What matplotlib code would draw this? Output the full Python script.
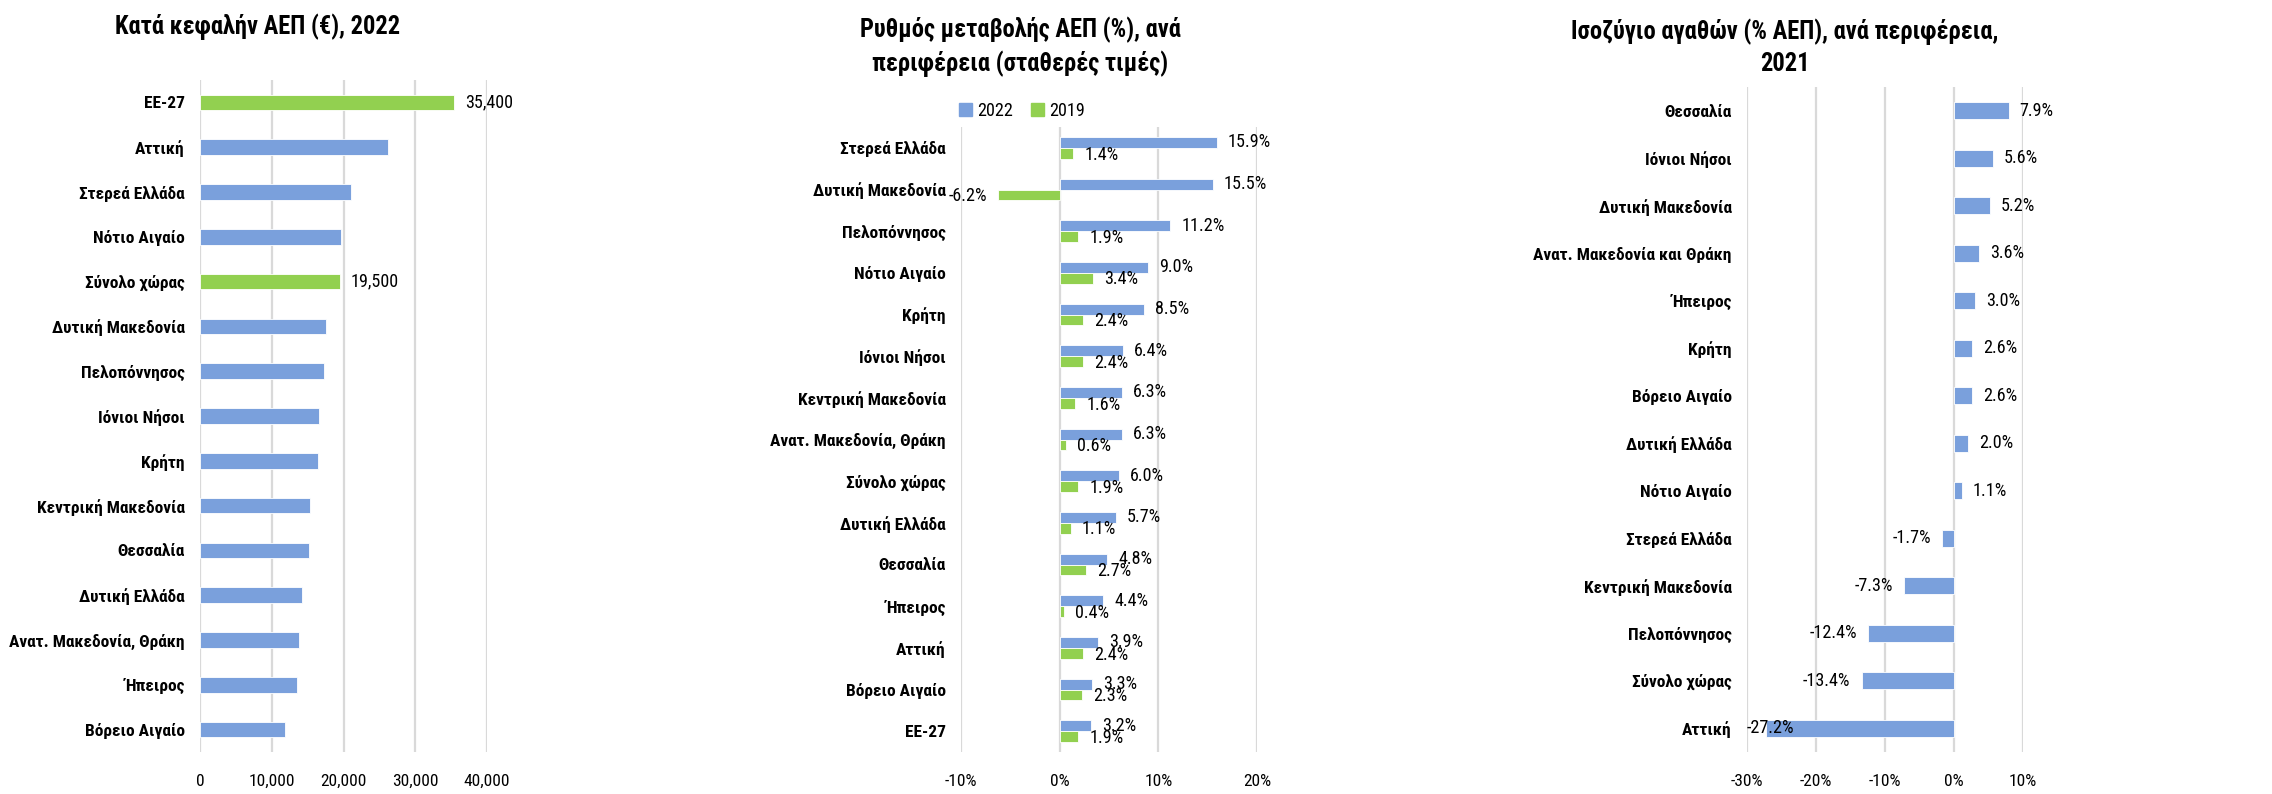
import matplotlib
matplotlib.use("Agg")
import matplotlib.pyplot as plt
from matplotlib import font_manager
from matplotlib.patches import Patch
from matplotlib.ticker import FuncFormatter

# pick the narrowest installed sans family (the original uses a condensed face)
installed = {f.name for f in font_manager.fontManager.ttflist}
for fam in ['Roboto Condensed', 'Liberation Sans Narrow', 'Open Sans Condensed', 'Roboto']:
    if fam in installed:
        FONT = fam
        break
else:
    FONT = 'DejaVu Sans'
plt.rcParams['font.family'] = [FONT, 'DejaVu Sans']

# --- Data: per-capita GDP 2022 (EUR) ---
gdp_regions = ['ΕΕ-27', 'Αττική', 'Στερεά Ελλάδα', 'Νότιο Αιγαίο', 'Σύνολο χώρας',
               'Δυτική Μακεδονία', 'Πελοπόννησος', 'Ιόνιοι Νήσοι', 'Κρήτη',
               'Κεντρική Μακεδονία', 'Θεσσαλία', 'Δυτική Ελλάδα',
               'Ανατ. Μακεδονία, Θράκη', 'Ήπειρος', 'Βόρειο Αιγαίο']
gdp_values = [35400, 26200, 21000, 19600, 19500, 17500, 17300, 16600, 16400,
              15400, 15200, 14200, 13800, 13500, 11900]
gdp_highlight = ['ΕΕ-27', 'Σύνολο χώρας']

# --- Data: GDP growth (%) by region, constant prices ---
growth_regions = ['Στερεά Ελλάδα', 'Δυτική Μακεδονία', 'Πελοπόννησος', 'Νότιο Αιγαίο',
                  'Κρήτη', 'Ιόνιοι Νήσοι', 'Κεντρική Μακεδονία', 'Ανατ. Μακεδονία, Θράκη',
                  'Σύνολο χώρας', 'Δυτική Ελλάδα', 'Θεσσαλία', 'Ήπειρος', 'Αττική',
                  'Βόρειο Αιγαίο', 'ΕΕ-27']
growth_2022 = [15.9, 15.5, 11.2, 9.0, 8.5, 6.4, 6.3, 6.3, 6.0, 5.7, 4.8, 4.4, 3.9, 3.3, 3.2]
growth_2019 = [1.4, -6.2, 1.9, 3.4, 2.4, 2.4, 1.6, 0.6, 1.9, 1.1, 2.7, 0.4, 2.4, 2.3, 1.9]

# --- Data: goods balance (% GDP), 2021 ---
trade_regions = ['Θεσσαλία', 'Ιόνιοι Νήσοι', 'Δυτική Μακεδονία', 'Ανατ. Μακεδονία και Θράκη',
                 'Ήπειρος', 'Κρήτη', 'Βόρειο Αιγαίο', 'Δυτική Ελλάδα', 'Νότιο Αιγαίο',
                 'Στερεά Ελλάδα', 'Κεντρική Μακεδονία', 'Πελοπόννησος', 'Σύνολο χώρας', 'Αττική']
trade_values = [7.9, 5.6, 5.2, 3.6, 3.0, 2.6, 2.6, 2.0, 1.1, -1.7, -7.3, -12.4, -13.4, -27.2]

BLUE = '#7AA0DC'
GREEN = '#92D050'
GRID = '#D9D9D9'
W, H = 2272, 794

fig = plt.figure(figsize=(W / 100, H / 100), dpi=100)
renderer = fig.canvas.get_renderer()


def fit_size(text, target_px, weight='normal', max_size=16):
    # font size (pt) that makes `text` about target_px wide
    t = fig.text(0, 0, text, fontsize=10, fontweight=weight)
    w = t.get_window_extent(renderer).width
    t.remove()
    return min(max_size, 10 * target_px / w)


CAT_FS = fit_size('Ανατ. Μακεδονία, Θράκη', 176, 'bold', 16)
VAL_FS = fit_size('35,400', 48, 'normal', 15)
TICK_FS = fit_size('40,000', 46, 'normal', 15)
TITLE_FS = fit_size('Κατά κεφαλήν ΑΕΠ (€), 2022', 285, 'bold', 19)


def px_axes(x0, x1, y0, y1):
    # pixel box -> figure fraction
    return fig.add_axes([x0 / W, 1 - y1 / H, (x1 - x0) / W, (y1 - y0) / H])


def style(ax, labels, xlim, ticks, fmt):
    n = len(labels)
    ax.set_ylim(n - 0.5, -0.5)
    ax.set_yticks(range(n))
    ax.set_yticklabels(labels, fontsize=CAT_FS, fontweight='bold')
    ax.set_xlim(*xlim)
    ax.set_xticks(ticks)
    ax.xaxis.set_major_formatter(FuncFormatter(fmt))
    ax.grid(axis='x', color=GRID, linewidth=1.6)
    ax.set_axisbelow(True)
    for s in ax.spines.values():
        s.set_visible(False)
    ax.tick_params(axis='both', length=0)
    ax.tick_params(axis='x', pad=16, labelsize=TICK_FS)
    ax.tick_params(axis='y', pad=11)


def label(ax, x, y, text, xmin=None):
    if x >= 0:
        ax.annotate(text, (x, y), xytext=(8, 0), textcoords='offset points',
                    ha='left', va='center', fontsize=VAL_FS)
    elif xmin is not None and x < xmin + 6:
        ax.annotate(text, (xmin, y), xytext=(0, 0), textcoords='offset points',
                    ha='left', va='center', fontsize=VAL_FS)
    else:
        ax.annotate(text, (x, y), xytext=(-8, 0), textcoords='offset points',
                    ha='right', va='center', fontsize=VAL_FS)


# --- Panel 1 ---
ax1 = px_axes(200, 487, 80, 752)
cols = [GREEN if r in gdp_highlight else BLUE for r in gdp_regions]
ax1.barh(range(len(gdp_regions)), gdp_values, height=0.35, color=cols,
         edgecolor='white', linewidth=0.6)
style(ax1, gdp_regions, (0, 40000), [0, 10000, 20000, 30000, 40000],
      lambda v, p: f'{v:,.0f}')
for i, (r, v) in enumerate(zip(gdp_regions, gdp_values)):
    if r in gdp_highlight:
        label(ax1, v, i, f'{v:,.0f}')
fig.text(258 / W, 1 - 27 / H, 'Κατά κεφαλήν ΑΕΠ (€), 2022', ha='center', va='center',
         fontsize=TITLE_FS, fontweight='bold')

# --- Panel 2 ---
ax2 = px_axes(961, 1257, 127, 752)
ys = range(len(growth_regions))
h = 0.26
ax2.barh([y - 0.13 for y in ys], growth_2022, height=h, color=BLUE, edgecolor='white', linewidth=0.6)
ax2.barh([y + 0.13 for y in ys], growth_2019, height=h, color=GREEN, edgecolor='white', linewidth=0.6)
style(ax2, growth_regions, (-10, 20), [-10, 0, 10, 20], lambda v, p: f'{v:.0f}%')
for i in ys:
    label(ax2, growth_2022[i], i - 0.13, f'{growth_2022[i]:.1f}%')
    label(ax2, growth_2019[i], i + 0.16, f'{growth_2019[i]:.1f}%')
fig.text(1020 / W, 1 - 47 / H, 'Ρυθμός μεταβολής ΑΕΠ (%), ανά\nπεριφέρεια (σταθερές τιμές)',
         ha='center', va='center', fontsize=TITLE_FS, fontweight='bold', linespacing=1.35)
fig.legend(handles=[Patch(color=BLUE, label='2022'), Patch(color=GREEN, label='2019')],
           loc='center', bbox_to_anchor=(1022 / W, 1 - 111 / H), ncol=2, frameon=False,
           fontsize=VAL_FS, handlelength=0.7, handleheight=0.7, handletextpad=0.3,
           columnspacing=1.0)

# --- Panel 3 ---
ax3 = px_axes(1747, 2023, 87, 752)
ax3.barh(range(len(trade_regions)), trade_values, height=0.35, color=BLUE,
         edgecolor='white', linewidth=0.6)
style(ax3, trade_regions, (-30, 10), [-30, -20, -10, 0, 10], lambda v, p: f'{v:.0f}%')
for i, v in enumerate(trade_values):
    label(ax3, v, i, f'{v:.1f}%', xmin=-30)
fig.text(1785 / W, 1 - 47 / H, 'Ισοζύγιο αγαθών (% ΑΕΠ), ανά περιφέρεια,\n2021',
         ha='center', va='center', fontsize=TITLE_FS, fontweight='bold', linespacing=1.35)

fig.savefig('out.png', dpi=100)
